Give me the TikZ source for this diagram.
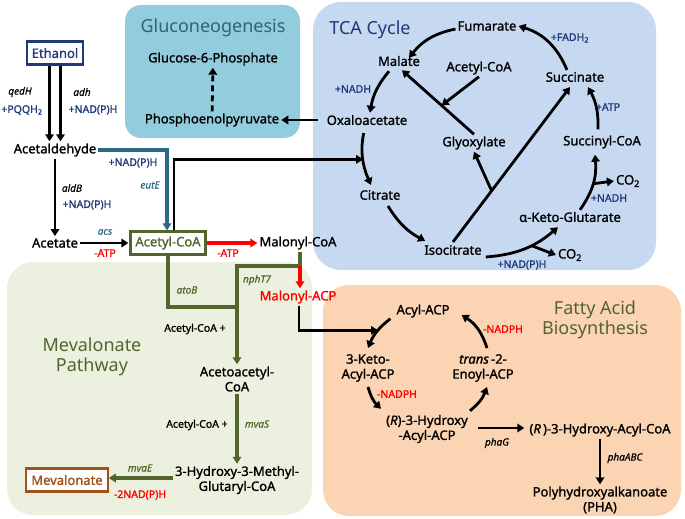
\documentclass[tikz,border=0pt]{standalone}
\usepackage{fontspec}
\setmainfont{Noto Sans}
\newfontfamily\mfont{Noto Sans}[FakeBold=1.3]
\newfontfamily\efont{Noto Sans}[FakeBold=0.6]
\usetikzlibrary{arrows.meta}
\definecolor{ethblue}{HTML}{1F3A7A}
\definecolor{eutteal}{HTML}{2B6A87}
\definecolor{olv}{HTML}{52652C}
\definecolor{mevbrown}{HTML}{A0521A}
\definecolor{glucobg}{HTML}{93CDDD}
\definecolor{glucottl}{HTML}{2D6476}
\definecolor{tcabg}{HTML}{C6D9F1}
\definecolor{mevbg}{HTML}{EBF1DE}
\definecolor{fabg}{HTML}{FBD4B4}
\begin{document}
\begin{tikzpicture}[x=1pt,y=1pt,
  met/.style={font=\fontsize{13}{15}\mfont,align=center,inner sep=2pt},
  metbox/.style={met,draw,line width=2.2pt,fill=white,inner xsep=5pt,minimum height=23pt},
  lab/.style={font=\fontsize{10.5}{12}\mfont,text=ethblue,inner sep=1pt},
  enz/.style={font=\fontsize{10}{11}\efont\itshape,inner sep=1pt},
  ttl/.style={font=\fontsize{18}{20}\selectfont,align=center},
  arr/.style={line width=2.8pt,-{Triangle[length=7pt,width=8.5pt]}},
  redarr/.style={arr,red,line width=3.2pt},
  tarr/.style={arr,eutteal,line width=3.2pt},
  oarr/.style={arr,olv,line width=3.2pt},
  oline/.style={line width=3.2pt,olv},
  dasharr/.style={arr,dash pattern=on 6pt off 4pt}]
\useasboundingbox (0,0) rectangle (685,-519);
% boxes
\fill[glucobg,rounded corners=16pt] (125,-5) rectangle (300,-138);
\fill[tcabg,rounded corners=28pt] (313,-2) rectangle (656,-270);
\fill[mevbg,rounded corners=26pt] (7,-262) rectangle (312,-515);
\fill[fabg,rounded corners=26pt] (323,-285) rectangle (681,-516);
\node[ttl,text=glucottl] (tgluc) at (213,-28) {Gluconeogenesis};
\node[ttl,text=ethblue] (ttca) at (370,-30) {TCA Cycle};
\node[ttl,text=olv] (tmev) at (92,-357) {Mevalonate\\Pathway};
\node[ttl,text=olv] (tfa) at (595,-320) {Fatty Acid\\Biosynthesis};
% metabolites
\node[metbox,draw=ethblue,text=ethblue] (eth) at (55,-53) {Ethanol};
\node[met] (ald) at (55,-150) {Acetaldehyde};
\node[met] (ace) at (55,-243) {Acetate};
\node[metbox,draw=olv,text=olv] (acoa) at (168,-243) {Acetyl-CoA};
\node[met] (mcoa) at (298,-243) {Malonyl-CoA};
\node[met,text=red] (macp) at (298,-297) {Malonyl-ACP};
\node[met] (aacoa) at (237,-379) {Acetoacetyl-\\CoA};
\node[met] (hmg) at (237,-480) {3-Hydroxy-3-Methyl-\\Glutaryl-CoA};
\node[metbox,draw=mevbrown,text=mevbrown] (mev) at (67,-480) {Mevalonate};
\node[met] (g6p) at (213,-59) {Glucose-6-Phosphate};
\node[met] (pep) at (212,-120) {Phosphoenolpyruvate};
\node[met] (oaa) at (367,-120) {Oxaloacetate};
\node[met] (cit) at (380,-195) {Citrate};
\node[met] (icit) at (453,-250) {Isocitrate};
\node[met] (akg) at (570,-217) {α-Keto-Glutarate};
\node[met] (scoa) at (602,-142) {Succinyl-CoA};
\node[met] (suc) at (575,-77) {Succinate};
\node[met] (fum) at (487,-26) {Fumarate};
\node[met] (mal) at (399,-61) {Malate};
\node[met] (tacoa) at (479,-68) {Acetyl-CoA};
\node[met] (glx) at (474,-143) {Glyoxylate};
\node[met] (co2a) at (628,-181) {CO\textsubscript{2}};
\node[met] (co2b) at (570,-255) {CO\textsubscript{2}};
\node[met] (acp) at (423,-311) {Acyl-ACP};
\node[met] (kacp) at (368,-368) {3-Keto-\\Acyl-ACP};
\node[met] (hacp) at (427,-429) {(\textit{R})-3-Hydroxy\\-Acyl-ACP};
\node[met] (eacp) at (483,-368) {\textit{trans}\,-2-\\Enoyl-ACP};
\node[met] (hcoa) at (600,-430) {(\textit{R}\,)-3-Hydroxy-Acyl-CoA};
\node[met] (pha) at (600,-500) {Polyhydroxyalkanoate\\(PHA)};
% ethanol to acetyl-CoA
\draw[arr] ([xshift=-5.5pt]eth.south) -- ([xshift=-5.5pt]ald.north);
\draw[arr] ([xshift=5.5pt]eth.south) -- ([xshift=5.5pt]ald.north);
\node[enz] (lqedh) at (20,-92) {qedH};
\node[lab] (lpqq) at (22,-110) {+PQQH\textsubscript{2}};
\node[enz] (ladh) at (82,-92) {adh};
\node[lab] (ladhn) at (93,-110) {+NAD(P)H};
\draw[arr] (ald) -- (ace);
\node[enz] (laldb) at (72,-188) {aldB};
\node[lab] (laldbn) at (87,-205) {+NAD(P)H};
\draw[tarr] (ald.east) -| ([xshift=-1pt]acoa.north);
\node[lab] (leuten) at (133,-163) {+NAD(P)H};
\node[enz,text=eutteal] (leute) at (150,-185) {eutE};
\draw[arr,shorten >=1pt] (ace) -- (acoa);
\node[enz,text=eutteal] (lacs) at (105,-232) {acs};
\node[lab,text=red] (lacsatp) at (105,-253) {-ATP};
\draw[redarr] (acoa) -- (mcoa);
\node[lab,text=red] (lmcatp) at (228,-253) {-ATP};
% mevalonate
\coordinate (mbr) at (300,-266);
\coordinate (abr) at (237,-307);
\draw[oline] (mcoa.south -| mbr) -- (mbr);
\draw[oline] (acoa.south) |- (abr);
\draw[oarr] (mbr) -| (aacoa.north);
\draw[redarr] (mbr) -- (macp.north -| mbr);
\node[enz,text=olv] (latob) at (187,-290) {atoB};
\node[enz,text=olv] (lnpht) at (257,-280) {nphT7};
\node[lab,text=black] (lac1) at (195,-329) {Acetyl-CoA +};
\draw[oarr] (aacoa) -- (hmg);
\node[lab,text=black] (lac2) at (197,-425) {Acetyl-CoA +};
\node[enz,text=olv] (lmvas) at (257,-424) {mvaS};
\draw[oarr] ([yshift=2pt]hmg.west) -- ([yshift=2pt]mev.east);
\node[enz,text=olv] (lmvae) at (140,-468) {mvaE};
\node[lab,text=red] (lmvaen) at (140,-495) {-2NAD(P)H};
% gluconeogenesis
\draw[arr] ([xshift=-7pt]oaa.west) -- (pep.east);
\draw[dasharr] (pep) -- (g6p);
% TCA cycle
\draw[arr] ([xshift=-8pt]suc.north) to[bend right=25] (fum.east);
\draw[arr] ([yshift=-3pt]fum.west) to[bend right=20] ([xshift=10pt,yshift=-4pt]mal.north);
\draw[arr] ([xshift=-10pt,yshift=-3pt]mal.south) to[bend right=15] ([xshift=3pt]oaa.north);
\draw[arr,shorten <=6pt] ([xshift=-2pt]oaa.south) to[bend right=18] coordinate[pos=0.55] (oc) ([xshift=-9pt,yshift=3pt]cit.north);
\draw[arr] ([xshift=6pt]acoa.north) |- (oc);
\draw[arr] ([xshift=8pt,yshift=-4pt]cit.south) to[bend right=15] ([xshift=3pt,yshift=2pt]icit.north west);
\draw[arr] ([xshift=2pt,yshift=-7pt]icit.east) to[bend right=18] coordinate[pos=0.6] (ic) ([xshift=-12pt,yshift=-3pt]akg.south);
\draw[arr] (ic) -- (co2b.west);
\node[lab] (licn) at (522,-265) {+NAD(P)H};
\draw[arr] ([xshift=10pt]akg.north) to[bend right=20] coordinate[pos=0.5] (ks) ([xshift=-7pt,yshift=-4pt]scoa.south);
\draw[arr] (ks) -- (co2a.west);
\node[lab] (lakn) at (609,-198) {+NADH};
\draw[arr] ([xshift=-4pt,yshift=4pt]scoa.north) to[bend right=15] ([xshift=13pt,yshift=-3pt]suc.south);
\node[lab] (latp) at (608,-107) {+ATP};
\node[lab] (lfad) at (570,-38) {+FADH\textsubscript{2}};
\node[lab] (lmaln) at (353,-89) {+NADH};
\draw[arr] ([yshift=1pt]icit.north) -- coordinate[pos=0.33] (ig) ([xshift=-5pt,yshift=-3pt]suc.south);
\draw[arr] (ig) -- (glx.south);
\draw[arr] (glx.north) -- coordinate[pos=0.45] (gm) ([xshift=3pt,yshift=-2pt]mal.south);
\draw[arr] (tacoa.south) -- (gm);
% fatty acids
\draw[arr] ([xshift=-4pt,yshift=1pt]acp.south west) to[bend right=15] coordinate[pos=0.45] (ak) ([yshift=4pt]kacp.north);
\draw[arr] ([xshift=1pt]macp.south) |- (ak);
\draw[arr] ([yshift=-3pt]kacp.south) to[bend right=15] ([xshift=-3pt,yshift=4pt]hacp.north west);
\node[lab,text=red] (lkn) at (397,-394) {-NADPH};
\draw[arr] ([yshift=2pt]hacp.north east) to[bend right=15] ([xshift=4pt,yshift=-3pt]eacp.south);
\draw[arr] ([xshift=4pt,yshift=4pt]eacp.north) to[bend right=20] ([xshift=10pt,yshift=-4pt]acp.east);
\node[lab,text=red] (len) at (503,-329) {-NADPH};
\draw[arr] ([xshift=8pt,yshift=1pt]hacp.east) -- ([xshift=-3pt,yshift=2pt]hcoa.west);
\node[enz] (lphag) at (497,-443) {phaG};
\draw[arr] (hcoa) -- (pha);
\node[enz] (lphaabc) at (625,-458) {phaABC};
\end{tikzpicture}
\end{document}
